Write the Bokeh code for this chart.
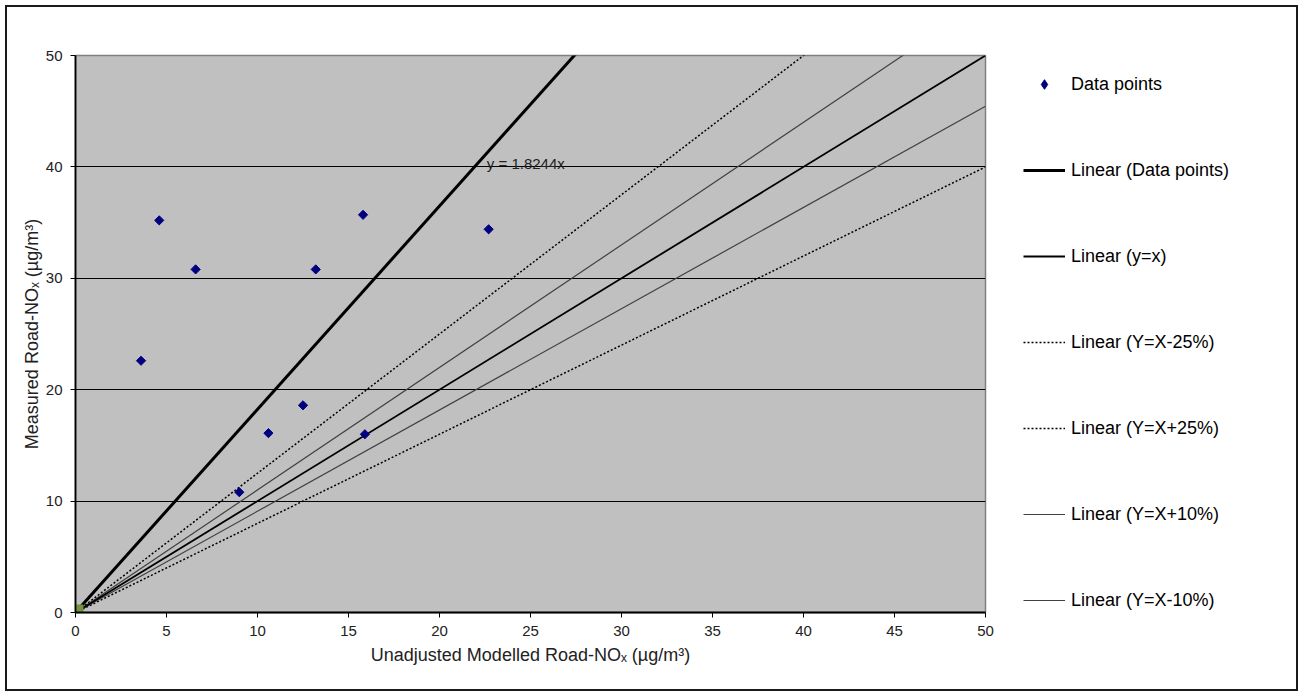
from bokeh.plotting import figure
from bokeh.layouts import row
from bokeh.models import Range1d, FixedTicker, Legend, LegendItem, Label
from bokeh.embed import file_html
from bokeh.resources import INLINE
import numpy as np

# ---- data ----
modelled = [3.6, 4.6, 6.6, 9.0, 10.6, 12.5, 13.2, 15.8, 15.9, 22.7]
measured = [22.6, 35.2, 30.8, 10.8, 16.1, 18.6, 30.8, 35.7, 16.0, 34.4]

ref_x = [0, 50]
trend_y = [0, 91.22]        # y = 1.8244x
one_to_one_y = [0, 50]      # y = x
minus25_y = [0, 40]         # Y=X-25%
plus25_y = [0, 62.5]        # Y=X+25%
plus10_y = [0, 55]          # Y=X+10%
minus10_y = [0, 45.45]      # Y=X-10%

origin_x = [0]
origin_y = [0]

eq_text = "y = 1.8244x"
eq_pos = [22.6, 40.3]

legend_labels = ["Data points", "Linear (Data points)", "Linear (y=x)", "Linear (Y=X-25%)",
                 "Linear (Y=X+25%)", "Linear (Y=X+10%)", "Linear (Y=X-10%)"]

x_ticks = [0, 5, 10, 15, 20, 25, 30, 35, 40, 45, 50]
y_ticks = [0, 10, 20, 30, 40, 50]
grid_ticks = [10, 20, 30, 40]

FONT = "Liberation Sans"

# styles
PTS = dict(fill_color="#000080", line_color="#000080")
TREND = dict(line_color="black", line_width=3)
ONE = dict(line_color="black", line_width=1.8)
DOT = dict(line_color="black", line_width=1.5, line_dash="2 2")
GRAY = dict(line_color="#404040", line_width=1.2)

p = figure(width=990, height=682, x_range=Range1d(0, 50), y_range=Range1d(0, 50),
           output_backend="svg", toolbar_location=None,
           min_border_left=68, min_border_right=12, min_border_top=48, min_border_bottom=77,
           background_fill_color="#C0C0C0", border_fill_color="white")
p.outline_line_color = "#808080"
p.outline_line_width = 1.5

p.xgrid.visible = False
p.ygrid.ticker = FixedTicker(ticks=grid_ticks)
p.ygrid.grid_line_color = "black"
p.ygrid.grid_line_width = 1.2

p.xaxis.ticker = FixedTicker(ticks=x_ticks)
p.yaxis.ticker = FixedTicker(ticks=y_ticks)
for ax in (p.xaxis, p.yaxis):
    ax.axis_line_color = "black"
    ax.axis_line_width = 1.8
    ax.major_tick_line_color = "black"
    ax.major_tick_in = 0
    ax.major_tick_out = 5
    ax.minor_tick_line_color = None
    ax.major_label_text_font = FONT
    ax.major_label_text_font_size = "15px"
    ax.major_label_text_color = "#222222"
    ax.axis_label_text_font = FONT
    ax.axis_label_text_font_size = "18px"
    ax.axis_label_text_font_style = "normal"
    ax.axis_label_text_color = "#222222"
p.xaxis.major_label_standoff = 8
p.yaxis.major_label_standoff = 8
p.xaxis.axis_label = "Unadjusted Modelled Road-NO\u2093 (\u00b5g/m\u00b3)"
p.yaxis.axis_label = "Measured Road-NO\u2093 (\u00b5g/m\u00b3)"
p.xaxis.axis_label_standoff = 6
p.yaxis.axis_label_standoff = 1

# lines
p.line(ref_x, minus25_y, **DOT)
p.line(ref_x, plus25_y, **DOT)
p.line(ref_x, plus10_y, **GRAY)
p.line(ref_x, minus10_y, **GRAY)
p.line(ref_x, one_to_one_y, **ONE)
p.line(ref_x, trend_y, **TREND)

p.scatter(modelled, measured, marker="square", size=6.5, angle=np.pi / 4, **PTS)

# green marker at the origin
p.scatter(origin_x, origin_y, marker="square", size=15, fill_color="#77933C",
          line_color="#77933C")

p.add_layout(Label(x=eq_pos[0], y=eq_pos[1], text=eq_text, text_align="left",
                   text_baseline="middle", text_font=FONT, text_font_size="15px",
                   text_color="#222222"))

# ---- legend panel (separate figure to the right; its ranges keep the
#      legend's own copies of the series out of view) ----
q = figure(width=299, height=682, x_range=Range1d(-20, -10), y_range=Range1d(-20, -10),
           output_backend="svg", toolbar_location=None,
           min_border_left=0, min_border_right=0, min_border_top=0, min_border_bottom=0,
           background_fill_color="white", border_fill_color="white")
q.axis.visible = False
q.grid.visible = False
q.outline_line_color = None

g_pts = q.scatter(modelled, measured, marker="diamond", **PTS)
g_trend = q.line(ref_x, trend_y, **TREND)
g_one = q.line(ref_x, one_to_one_y, **ONE)
g_m25 = q.line(ref_x, minus25_y, **DOT)
g_p25 = q.line(ref_x, plus25_y, **DOT)
g_p10 = q.line(ref_x, plus10_y, **GRAY)
g_m10 = q.line(ref_x, minus10_y, **GRAY)
glyphs = [g_pts, g_trend, g_one, g_m25, g_p25, g_p10, g_m10]

legend = Legend(items=[LegendItem(label=lab, renderers=[g]) for lab, g in zip(legend_labels, glyphs)],
                location=(26, 0), orientation="vertical")
legend.glyph_width = 42
legend.glyph_height = 24
legend.label_height = 20
legend.label_standoff = 6
legend.spacing = 62
legend.padding = 0
legend.margin = 0
legend.border_line_color = None
legend.background_fill_alpha = 0
legend.label_text_font = FONT
legend.label_text_font_size = "18px"
legend.label_text_color = "black"
legend.label_text_baseline = "middle"
q.add_layout(legend, "center")

layout = row(p, q, margin=(7, 0, 0, 7), styles={"outline": "2px solid #1a1a1a"})

open("out.html", "w").write(file_html(layout, INLINE))
